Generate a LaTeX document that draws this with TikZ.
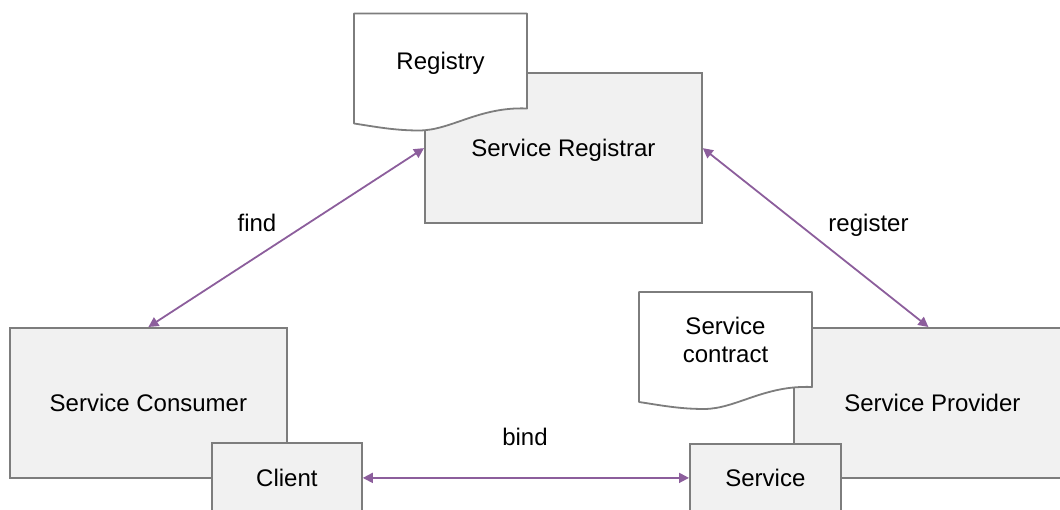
\documentclass[tikz,border=0pt]{standalone}
\usepackage{fontspec}
\setmainfont{Liberation Sans}
\usetikzlibrary{arrows.meta}
\definecolor{boxfill}{RGB}{241,241,241}
\definecolor{boxline}{RGB}{125,125,125}
\definecolor{linkcol}{RGB}{140,94,156}

% Document symbol (wavy bottom) with its caption node
\newcommand{\docshape}[4]{%
  \begin{scope}[shift={#2}]
    \draw[doc] (0,0) -- (173,0) -- (173,95)
      .. controls (125,93) and (97,117) .. (65,117)
      .. controls (40,117) and (20,113) .. (0,110) -- cycle;
    \node[doctext,#4] (#1) at (86.5,47.8) {#3};
  \end{scope}}

\begin{document}
\begin{tikzpicture}[x=1pt,y=-1pt,
  font=\fontsize{24}{28}\selectfont,
  capcentred/.style={text height=17.2pt, text depth=0pt},
  box/.style={draw=boxline, fill=boxfill, line width=1.8pt, inner sep=0pt,
    capcentred, anchor=north west},
  doc/.style={draw=boxline, fill=white, line width=1.8pt, line join=round},
  doctext/.style={align=center, inner sep=0pt},
  link/.style={draw=linkcol, line width=1.8pt,
    {Triangle[length=10pt,width=10pt]}-{Triangle[length=10pt,width=10pt]}},
  lbl/.style={inner sep=0pt, capcentred}]

\useasboundingbox (0,0) rectangle (1060,510);

% Registrar with its registry document
\node[box, minimum width=277pt, minimum height=149.5pt] (registrar) at (424,72.5) {Service Registrar};
\docshape{registry}{(354,13.5)}{Registry}{capcentred}

% Consumer side
\node[box, minimum width=277pt, minimum height=150pt] (consumer) at (9,327) {Service Consumer};
\node[box, minimum width=150pt, minimum height=70pt] (client) at (211,442) {Client};

% Provider side
\node[box, minimum width=277pt, minimum height=150pt] (provider) at (793,327) {Service Provider};
\docshape{contract}{(639,292)}{Service\\contract}{}
\node[box, minimum width=151pt, minimum height=68pt] (service) at (689,443) {Service};

% Interactions
\draw[link] (registrar.west) -- (consumer.north);
\draw[link] (registrar.east) -- ([xshift=-4pt]provider.north);
\draw[link] (client.east) -- (service.west);

\node[lbl] (find) at (257,222.5) {find};
\node[lbl] (register) at (868.5,222.5) {register};
\node[lbl] (bind) at (525,437) {bind};
\end{tikzpicture}
\end{document}
